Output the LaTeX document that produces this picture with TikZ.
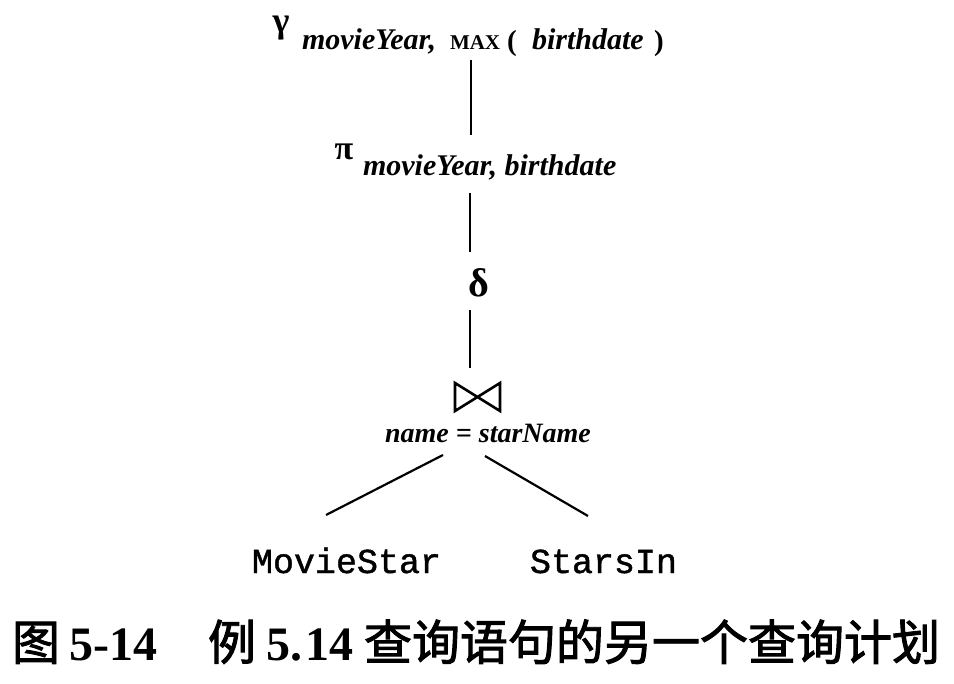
\documentclass[tikz,border=0pt]{standalone}
\usepackage{fontspec}
\setmainfont{Liberation Serif}
\newfontfamily\monofont[FakeBold=1.2]{Liberation Mono}
\newfontfamily\cjk[FakeBold=2]{Noto Sans CJK SC}
\begin{document}
\begin{tikzpicture}[x=1pt,y=-1pt,
  lbl/.style={inner sep=0pt, outer sep=0pt},
  sub/.style={lbl, anchor=base west, font=\fontsize{30}{32}\selectfont\bfseries\itshape},
  greek/.style={lbl, font=\fontsize{36}{38}\selectfont\bfseries},
  rel/.style={lbl, anchor=base west, font=\fontsize{35}{38}\selectfont\monofont},
  edge/.style={line width=2.2pt, line cap=butt},
  captext/.style={lbl, font=\fontsize{48}{50}\selectfont\bfseries}]
\useasboundingbox (0,0) rectangle (954,684);
% gamma line
\node[greek] (gam) at (281,28) {γ};
\node[sub] (g1) at (302,50) {movieYear,};
\node[lbl, anchor=base west, font=\fontsize{21}{22}\selectfont\bfseries] (g2) at (450,50) {MAX};
\node[lbl, anchor=base west, font=\fontsize{29}{30}\selectfont\bfseries] (g3) at (507,51) {(};
\node[sub] (g4) at (532,50) {birthdate};
\node[lbl, anchor=base west, font=\fontsize{29}{30}\selectfont\bfseries] (g5) at (654,51) {)};
% pi line
\node[greek, font=\fontsize{34}{36}\selectfont\bfseries] (pi) at (344,152) {π};
\node[sub] (p1) at (363,176) {movieYear, birthdate};
% delta
\node[greek, font=\fontsize{40}{42}\selectfont\bfseries] (del) at (479,283) {δ};
% join
\draw[line width=2.6pt, line join=miter] (455,383) -- (455,411) -- (500,383) -- (500,411) -- cycle;
\coordinate (jn) at (477,397);
\node[lbl, anchor=base, font=\fontsize{28}{30}\selectfont\bfseries\itshape] (cond) at (488,443) {name = starName};
% relations
\node[rel] (ms) at (252,573) {MovieStar};
\node[rel] (si) at (530,573) {StarsIn};
% connectors
\coordinate (a1) at (471,60); \coordinate (a2) at (471,135);
\coordinate (b1) at (470,193); \coordinate (b2) at (470,252);
\coordinate (c1) at (470,310); \coordinate (c2) at (470,368);
\coordinate (l1) at (443,455); \coordinate (l2) at (326,515);
\coordinate (r1) at (485,456); \coordinate (r2) at (588,516);
\draw[edge] (a1) -- (a2);
\draw[edge] (b1) -- (b2);
\draw[edge] (c1) -- (c2);
\draw[edge] (l1) -- (l2);
\draw[edge] (r1) -- (r2);
% caption
\node[captext, anchor=base west] (cap1) at (12,660) {{\cjk\mdseries 图}\hspace{10pt}5-14};
\node[captext, anchor=base east] (cap2) at (940,660) {{\cjk\mdseries 例}\hspace{10pt}5.\hspace{4pt}14\hspace{10pt}{\cjk\mdseries 查询语句的另一个查询计划}};
\end{tikzpicture}
\end{document}
